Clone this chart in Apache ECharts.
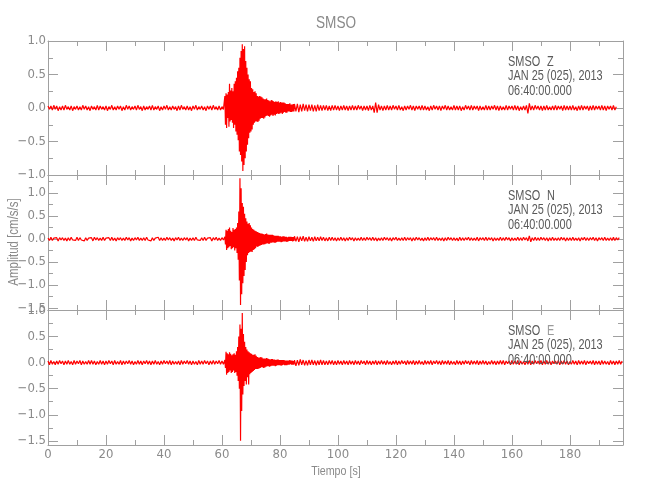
<!DOCTYPE html>
<html>
<head>
<meta charset="utf-8">
<script src="https://cdn.jsdelivr.net/npm/echarts@6/dist/echarts.min.js"></script>
<style>html,body{margin:0;padding:0;background:#fff}#c{width:650px;height:500px}</style>
</head>
<body>
<div id="c"></div>
<script>
// ---- data (amplitudes in hundredths of cm/s/s) ----
// time steps: pre-event 0-60.5 s @0.5 s, event 61-84.8 s @0.2 s, post-event from 85 s @0.5 s
const stationName = 'SMSO';
const channels = ['Z', 'N', 'E'];
const dateLine = 'JAN 25 (025), 2013';
const timeLine = '06:40:00.000';
const xTicks = [0, 20, 40, 60, 80, 100, 120, 140, 160, 180];
const xMinorTicks = [10, 30, 50, 70, 90, 110, 130, 150, 170, 190];

const zPre = [
3,-2,3,-3,4,-2,3,-4,2,-3,
3,-3,4,-2,2,-3,3,-4,2,-2,
3,-3,2,-3,4,-2,3,-3,2,-4,
3,-2,2,-3,4,-3,3,-2,2,-3,
3,-4,2,-2,4,-3,2,-3,3,-2,
3,-4,2,-3,4,-2,3,-3,2,-2,
3,-3,4,-2,2,-4,3,-3,2,-2,
3,-3,4,-3,2,-2,3,-4,2,-3,
3,-2,4,-3,2,-3,3,-2,2,-4,
3,-3,4,-2,2,-3,3,-3,2,-4,
3,-2,4,-3,2,-2,3,-3,2,-4,
3,-2,3,-3,4,-2,2,-3,3,-3,
2,-2];
const zEvt = [
18,-25,22,-30,20,
-15,24,-28,36,-20,
26,-18,30,-22,25,
-30,36,-25,40,-35,
45,-40,55,-48,60,
-65,75,-70,85,-80,
95,-94,88,-85,92,
-75,70,-65,60,-55,
50,-45,43,-37,40,
-35,30,-32,28,-25,
24,-22,25,-20,22,
-20,18,-21,17,-19,
18,-16,17,-15,16,
-15,14,-16,13,-14,
13,-12,14,-11,12,
-12,11,-13,10,-11,
12,-10,11,-12,10,
-10,9,-11,10,-9,
9,-8,10,-9,8,
-8,9,-7,8,-9,
8,-7,8,-6,7,
-7,6,-7,6,-5,
6,-5,7,-6,5,
-6,5,-5,6,-5];
const zPost = [
6,-5,6,-6,5,-5,6,-4,5,-5,
5,-4,5,-5,4,-5,5,-4,4,-4,
4,-3,4,-4,3,-4,4,-3,4,-3,
3,-4,3,-3,4,-3,3,-4,3,-3,
4,-3,3,-3,4,-2,3,-4,3,-3,
3,-4,4,-3,3,-7,8,-7,5,-3,
3,-4,3,-3,4,-3,3,-3,4,-2,
3,-3,4,-3,2,-4,3,-3,3,-2,
4,-3,3,-4,3,-2,3,-3,4,-3,
3,-3,2,-4,3,-3,4,-2,3,-3,
3,-4,3,-2,4,-3,3,-3,2,-3,
4,-3,3,-3,3,-4,2,-3,4,-2,
3,-3,4,-3,3,-2,3,-4,3,-3,
2,-3,4,-3,3,-3,3,-2,4,-3,
3,-4,3,-3,2,-3,4,-3,3,-2,
3,-3,4,-3,3,-4,2,-3,3,-3,
4,-8,7,-3,3,-3,4,-2,3,-3,
3,-4,3,-3,4,-3,2,-3,3,-3,
4,-3,3,-2,3,-4,4,-3,3,-3,
3,-3,4,-3,2,-4,3,-3,4,-3,
3,-2,3,-4,3,-3,4,-3,3,-2,
3,-3,4,-3,3,-4,3,-2,3,-3,
4,-3,2];

const nPre = [
2,-3,4,-3,2,-2,3,-4,3,-2,
3,-3,2,-4,3,-3,4,-2,2,-3,
4,-3,3,-2,2,-4,3,-3,2,-2,
3,-4,4,-2,3,-3,2,-3,4,-3,
2,-2,3,-3,4,-3,2,-4,3,-2,
3,-3,2,-3,4,-2,3,-4,2,-3,
3,-2,4,-3,2,-3,3,-3,4,-2,
2,-4,3,-3,2,-2,4,-3,3,-3,
2,-3,4,-2,3,-3,2,-4,3,-2,
4,-3,2,-3,3,-2,3,-4,2,-3,
3,-3,4,-2,2,-3,3,-3,4,-3,
2,-2,3,-4,3,-2,4,-3,2,-3,
3,-2];
const nEvt = [
5,-12,20,-24,18,
-20,22,-18,25,-15,
18,-22,15,-20,24,
-18,20,-25,22,-20,
25,-30,35,-45,60,
-90,132,-143,110,-120,
78,-96,70,-80,55,
-67,45,-50,38,-35,
33,-30,35,-28,30,
-27,25,-28,22,-24,
20,-22,18,-20,17,
-16,15,-17,14,-15,
13,-14,12,-13,12,
-12,11,-12,10,-11,
11,-10,12,-9,10,
-10,9,-10,9,-8,
9,-8,9,-7,8,
-8,7,-8,7,-7,
7,-6,7,-6,6,
-6,6,-7,5,-6,
6,-5,6,-5,5,
-5,5,-6,4,-5,
5,-4,5,-4,5,
-4,4,-5,4,-4];
const nPost = [
6,-5,5,-6,5,-4,6,-5,4,-5,
5,-4,4,-5,5,-4,4,-4,5,-3,
4,-4,3,-4,4,-3,4,-3,3,-4,
3,-3,4,-3,3,-4,3,-3,4,-2,
3,-4,3,-3,2,-3,4,-3,3,-3,
4,-2,3,-3,4,-3,3,-4,2,-3,
3,-3,4,-2,3,-3,3,-4,3,-2,
4,-3,2,-3,3,-3,4,-3,3,-2,
3,-4,3,-3,4,-2,3,-3,2,-4,
3,-3,4,-3,3,-2,3,-3,4,-3,
2,-3,3,-4,3,-3,4,-2,3,-3,
3,-3,2,-4,4,-3,3,-3,3,-2,
4,-3,3,-3,2,-3,4,-4,3,-2,
3,-3,4,-3,3,-2,3,-4,3,-3,
2,-3,4,-3,3,-3,4,-2,3,-4,
3,-3,2,-3,4,-3,3,-3,4,-2,
3,-4,7,-6,3,-3,4,-3,3,-3,
4,-2,3,-3,3,-4,3,-3,4,-3,
2,-3,3,-3,4,-2,3,-4,3,-3,
3,-3,4,-3,2,-3,3,-4,3,-2,
4,-3,3,-3,3,-2,4,-3,3,-4,
3,-2,3,-3,4,-3,2,-3,3,-3,
4,-3,3,-2,3];

const ePre = [
3,-4,4,-3,2,-4,3,-3,4,-2,
3,-4,3,-3,4,-3,2,-4,4,-3,
3,-2,4,-4,3,-3,2,-3,4,-3,
4,-3,3,-4,2,-3,4,-3,3,-4,
3,-3,4,-2,3,-4,4,-3,2,-3,
4,-4,3,-3,3,-2,4,-3,3,-4,
2,-3,4,-3,3,-4,3,-2,4,-3,
3,-4,3,-3,4,-3,2,-4,3,-3,
4,-2,3,-3,4,-4,3,-3,2,-3,
3,-4,4,-3,3,-2,4,-3,3,-4,
3,-3,2,-4,4,-3,3,-3,4,-2,
3,-4,3,-3,4,-3,3,-2,4,-3,
3,-3];
const eEvt = [
5,-10,21,-23,18,
-20,16,-18,20,-15,
17,-20,14,-18,16,
-15,18,-20,15,-18,
22,-25,30,-35,50,
-50,73,-150,65,-93,
95,-61,55,-45,40,
-35,30,-42,25,-28,
22,-42,20,-22,18,
-20,17,-18,15,-16,
15,-14,16,-12,13,
-12,11,-12,10,-11,
10,-10,11,-9,10,
-9,8,-10,8,-9,
8,-8,9,-7,8,
-7,7,-8,6,-7,
7,-6,7,-6,6,
-6,6,-7,5,-6,
6,-5,6,-5,5,
-5,5,-6,5,-5,
5,-4,5,-5,4,
-5,4,-5,4,-4,
4,-4,5,-3,4,
-4,4,-4,3,-4];
const ePost = [
5,-6,5,-5,6,-4,5,-5,4,-5,
5,-4,5,-4,4,-5,4,-4,5,-4,
4,-4,3,-4,4,-3,4,-4,3,-4,
4,-3,3,-4,4,-3,3,-4,4,-3,
3,-4,4,-3,3,-4,4,-2,3,-4,
4,-3,3,-4,3,-3,4,-4,3,-3,
4,-3,3,-4,4,-3,2,-4,3,-3,
4,-4,3,-3,4,-2,3,-4,4,-3,
3,-3,4,-4,3,-3,4,-3,2,-4,
4,-3,3,-3,4,-4,3,-2,4,-3,
3,-4,4,-3,3,-3,4,-4,3,-3,
2,-4,4,-3,3,-4,3,-3,4,-2,
3,-4,4,-3,3,-3,4,-4,3,-3,
4,-3,3,-4,2,-3,4,-3,3,-4,
3,-3,4,-3,4,-4,3,-2,3,-4,
4,-3,3,-3,4,-4,3,-3,2,-4,
3,-3,4,-4,3,-3,4,-2,3,-3,
4,-4,3,-3,4,-3,3,-4,3,-2,
3,-3,4,-4,3,-3,4,-3,3,-4,
2,-3,4,-3,3,-4,4,-3,3,-3,
4,-4,3,-2,3,-3,4,-4,3,-3,
3,-4,4,-3,3,-3,2,-4,4,-3,
3,-4,3,-3,4,-3,3];

// ---- build ----
function seg(t0, dt, arr) { return arr.map((v, i) => [+(t0 + i * dt).toFixed(2), v / 100]); }
function trace(pre, evt, post) { return seg(0, 0.5, pre).concat(seg(61, 0.2, evt), seg(85, 0.5, post)); }
const traces = [trace(zPre, zEvt, zPost), trace(nPre, nEvt, nPost), trace(ePre, eEvt, ePost)];

const panels = [
  {top: 41, height: 134, min: -1.0, max: 1.0, major: [-1, -0.5, 0, 0.5, 1], minor: [-0.75, -0.25, 0.25, 0.75]},
  {top: 175, height: 135, min: -1.54, max: 1.39, major: [-1.5, -1, -0.5, 0, 0.5, 1], minor: [-1.25, -0.75, -0.25, 0.25, 0.75, 1.25]},
  {top: 310, height: 135, min: -1.58, max: 1.01, major: [-1.5, -1, -0.5, 0, 0.5, 1], minor: [-1.25, -0.75, -0.25, 0.25, 0.75]}
];

const AX = '#a0a0a0', LB = '#8a8a8a', TX = '#5a5a5a';
const NARROW = "'Liberation Sans Narrow','DejaVu Sans Condensed','Arial Narrow',sans-serif";
const fmtY = v => (v < 0 ? '\u2212' : '') + Math.abs(v).toFixed(1);

const grid = [], xAxis = [], yAxis = [], series = [], graphic = [];
panels.forEach((p, gi) => {
  grid.push({left: 48, width: 575, top: p.top, height: p.height, containLabel: false});
  const last = gi === panels.length - 1;
  const xBase = {type: 'value', gridIndex: gi, min: 0, max: 198.3, splitLine: {show: false}};
  const lineOn = {show: true, onZero: false, lineStyle: {color: AX, width: 1}};
  const lineOff = {show: false, onZero: false};
  const xi = xAxis.length;
  xAxis.push(Object.assign({}, xBase, {position: 'bottom', axisLine: lineOn,
    axisTick: {show: true, inside: true, length: 10, lineStyle: {color: AX}, customValues: xTicks},
    axisLabel: {show: last, color: LB, fontSize: 13, fontFamily: NARROW, margin: 3, customValues: xTicks}}));
  xAxis.push(Object.assign({}, xBase, {position: 'bottom', axisLine: lineOff,
    axisTick: {show: true, inside: true, length: 5, lineStyle: {color: AX}, customValues: xMinorTicks},
    axisLabel: {show: false}}));
  xAxis.push(Object.assign({}, xBase, {position: 'top', axisLine: lineOn,
    axisTick: {show: true, inside: true, length: 10, lineStyle: {color: AX}, customValues: xTicks},
    axisLabel: {show: false}}));
  xAxis.push(Object.assign({}, xBase, {position: 'top', axisLine: lineOff,
    axisTick: {show: true, inside: true, length: 5, lineStyle: {color: AX}, customValues: xMinorTicks},
    axisLabel: {show: false}}));

  const yBase = {type: 'value', gridIndex: gi, min: p.min, max: p.max, splitLine: {show: false}};
  const yi = yAxis.length;
  yAxis.push(Object.assign({}, yBase, {position: 'left', axisLine: lineOn,
    axisTick: {show: true, inside: true, length: 10, lineStyle: {color: AX}, customValues: p.major},
    axisLabel: {show: true, color: LB, fontSize: 13, fontFamily: NARROW, margin: 2, formatter: fmtY, customValues: p.major}}));
  yAxis.push(Object.assign({}, yBase, {position: 'left', axisLine: lineOff,
    axisTick: {show: true, inside: true, length: 5, lineStyle: {color: AX}, customValues: p.minor},
    axisLabel: {show: false}}));
  yAxis.push(Object.assign({}, yBase, {position: 'right', axisLine: lineOn,
    axisTick: {show: true, inside: true, length: 10, lineStyle: {color: AX}, customValues: p.major},
    axisLabel: {show: false}}));
  yAxis.push(Object.assign({}, yBase, {position: 'right', axisLine: lineOff,
    axisTick: {show: true, inside: true, length: 5, lineStyle: {color: AX}, customValues: p.minor},
    axisLabel: {show: false}}));

  series.push({type: 'line', xAxisIndex: xi, yAxisIndex: yi, data: traces[gi],
    symbol: 'none', showSymbol: false, silent: true,
    lineStyle: {color: '#ff0000', width: 1.2}, z: 3});

  const tx = (text, x, y, color) => ({type: 'text', x: x, y: y, scaleX: 0.78, z: 10, silent: true,
    style: {text: text, fill: color, font: '14px "Liberation Sans", sans-serif', align: 'left', verticalAlign: 'middle',
      textAlign: 'left', textVerticalAlign: 'middle'}});
  graphic.push(tx(stationName, 508, p.top + 21, TX));
  graphic.push(tx(channels[gi], 547, p.top + 21, gi === 2 ? '#9a9a9a' : TX));
  graphic.push(tx(dateLine, 508, p.top + 35.5, TX));
  graphic.push(tx(timeLine, 508, p.top + 50, TX));
});

graphic.push({type: 'text', x: 336, y: 23, scaleX: 0.8, silent: true,
  style: {text: stationName, fill: LB, font: '17px "Liberation Sans", sans-serif', align: 'center', verticalAlign: 'middle',
    textAlign: 'center', textVerticalAlign: 'middle'}});
graphic.push({type: 'text', x: 336, y: 471, scaleX: 0.82, silent: true,
  style: {text: 'Tiempo [s]', fill: LB, font: '13px "Liberation Sans", sans-serif', align: 'center', verticalAlign: 'middle',
    textAlign: 'center', textVerticalAlign: 'middle'}});
graphic.push({type: 'text', x: 14, y: 242, rotation: Math.PI / 2, scaleX: 0.82, silent: true,
  style: {text: 'Amplitud [cm/s/s]', fill: LB, font: '14px "Liberation Sans", sans-serif', align: 'center', verticalAlign: 'middle',
    textAlign: 'center', textVerticalAlign: 'middle'}});

const chart = echarts.init(document.getElementById('c'), null, {renderer: 'canvas'});
chart.setOption({animation: false, backgroundColor: '#fff', grid, xAxis, yAxis, series, graphic});
</script>
</body>
</html>
